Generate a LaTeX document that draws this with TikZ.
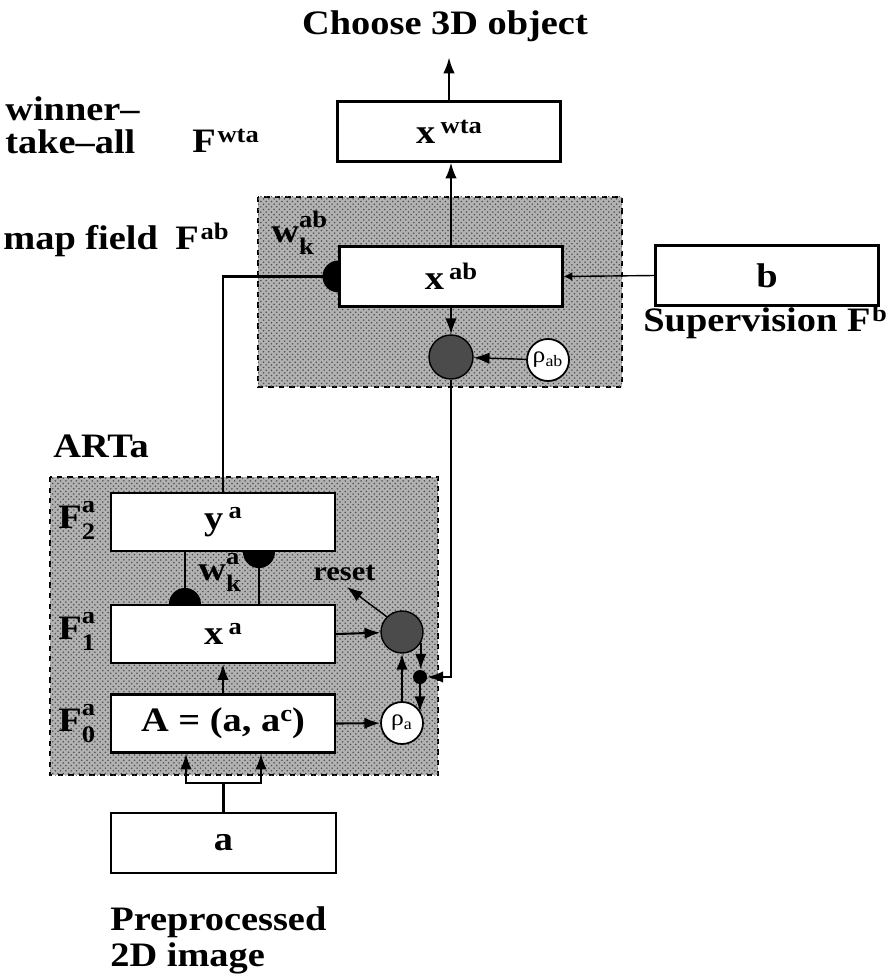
\documentclass[tikz,border=0pt]{standalone}
\usepackage{fontspec}
\setmainfont{Liberation Serif}[FakeStretch=1.12]
\usetikzlibrary{arrows.meta, positioning, calc, patterns}
\usepackage{xcolor}
\definecolor{cField}{RGB}{178, 178, 178}
\definecolor{cDots}{RGB}{80, 80, 80}
\definecolor{cNode}{RGB}{75, 75, 75}

\pgfdeclarelayer{field}
\pgfdeclarelayer{links}
\pgfsetlayers{field,links,main}

\newcommand{\sups}[1]{\raisebox{0.3em}{\fontsize{13.5}{13.5}\selectfont #1}}
\newcommand{\supsub}[2]{\rlap{\raisebox{0.45em}{\fontsize{13.5}{13.5}\selectfont #1}}%
    \raisebox{-0.34em}{\fontsize{13.5}{13.5}\selectfont #2}}

\begin{document}
\begin{tikzpicture}[
    x=0.02cm, y=0.02cm,
    font=\fontsize{19.5}{23}\selectfont\bfseries,
    >={Latex[length=9pt,width=6.5pt]},
    layerbox/.style={
        draw,
        line width=1.2pt,
        fill=white,
        minimum width=4.46cm,
        minimum height=1.2cm,
        inner sep=0pt
    },
    artbox/.style={layerbox, minimum width=4.48cm, minimum height=1.16cm},
    fieldbox/.style={draw, dashed, line width=0.9pt, fill=cField,
        postaction={pattern=crosshatch dots, pattern color=cDots}},
    match/.style={circle, draw, line width=0.8pt, fill=cNode, minimum size=0.88cm, inner sep=0pt},
    vigil/.style={circle, draw, line width=1pt, fill=white, minimum size=0.84cm, inner sep=0pt,
        font=\fontsize{13}{13}\selectfont\mdseries},
    tagtext/.style={anchor=base west, inner sep=0pt},
    link/.style={line width=1.2pt},
    thinlink/.style={line width=0.8pt},
    arrow/.style={->, line width=1.2pt}
]
\useasboundingbox (0,0) rectangle (895,-979);

% gray fields
\begin{pgfonlayer}{field}
    \draw[fieldbox] (258,-197) rectangle (622,-387);
    \draw[fieldbox] (50,-477) rectangle (438,-775);
\end{pgfonlayer}

% map field and winner-take-all
\node[layerbox] (wta) at (449,-131.5) {x\kern3pt\sups{wta}};
\node[layerbox] (xab) at (451,-276.5) {x\kern3pt\sups{ab}};
\node[layerbox] (b) at (767,-275.5) {b};
\node[match] (darkab) at (451,-357) {};
\node[vigil] (rhoab) at (548,-360) {ρ\textsubscript{ab}};

% ARTa
\node[artbox] (ya) at (223,-522) {y\kern3pt\sups{a}};
\node[artbox] (xa) at (223,-634) {x\kern3pt\sups{a}};
\node[artbox] (A) at (223,-723.5) {A = (a, a\sups{c})};
\node[match, minimum size=0.84cm] (darka) at (402,-632) {};
\node[circle, fill, minimum size=0.28cm, inner sep=0pt] (junc) at (420,-677) {};
\node[vigil] (rhoa) at (402,-723) {ρ\textsubscript{a}};
\node[layerbox, minimum width=4.5cm] (a) at (223.5,-843) {a};

% texts
\node[anchor=base, inner sep=0pt] (choose) at (445,-35) {Choose 3D object};
\node[tagtext] (winner) at (5,-121) {winner--};
\node[tagtext] (take) at (5,-154) {take--all};
\node[tagtext] (fwta) at (192,-153) {F\kern1pt\sups{wta}};
\node[tagtext] (mapf) at (3,-250) {map field};
\node[tagtext] (fab) at (175,-250) {F\kern1pt\sups{ab}};
\node[tagtext] (wab) at (271,-243) {w\supsub{ab}{k}};
\node[tagtext] (superv) at (643,-332) {Supervision F\kern1pt\sups{b}};
\node[tagtext] (arta) at (53,-457) {ARTa};
\node[tagtext] (f2) at (58,-528) {F\supsub{a}{2}};
\node[tagtext] (f1) at (58,-639) {F\supsub{a}{1}};
\node[tagtext] (f0) at (58,-731) {F\supsub{a}{0}};
\node[tagtext] (wa) at (198,-580) {w\supsub{a}{k}};
\node[tagtext, font=\fontsize{15.5}{15.5}\selectfont\bfseries] (reset) at (313,-580) {reset};
\node[tagtext] (prep) at (110,-930) {Preprocessed};
\node[tagtext] (img) at (110,-966) {2D image};
\coordinate (resetpt) at (347,-587);

\begin{pgfonlayer}{links}
    % adaptive weights
    \draw[link] (ya.north) |- (xab.west);
    \fill (xab.west) circle (16);
    \draw[link] ($(ya.south west)+(75,0)$) coordinate (bu) -- (bu |- xa.north);
    \fill (bu |- xa.north) circle (16);
    \draw[link] ($(xa.north west)+(149,0)$) coordinate (td) -- (td |- ya.south);
    \fill (td |- ya.south) circle (16);

    % map field
    \draw[arrow] (wta.north) -- ++(0,43);
    \draw[arrow] (xab.north) -- (xab.north |- wta.south);
    \draw[thinlink, -{Latex[length=5pt,width=5pt]}] (b.west) -- (xab.east);
    \draw[arrow] (xab.south) -- (darkab);
    \draw[thinlink, ->] (rhoab) -- (darkab);
    \draw[thinlink, ->] (darkab.south) |- (junc.east);

    % ARTa
    \draw[link] (a.north) -- ++(0,29) coordinate (split);
    \draw[arrow] (split) -| ($(A.south west)+(76,0)$);
    \draw[arrow] (split) -| ($(A.south west)+(151,0)$);
    \draw[arrow] (A.north) -- (xa.south);
    \draw[arrow] (xa.east) -- (darka);
    \draw[arrow] (A.east) -- (rhoa);
    \draw[arrow] (rhoa) -- (darka);
    \draw[arrow] (darka.-30) -- (darka.-30 |- junc.north);
    \draw[arrow] (junc.south) -- (junc.south |- rhoa.30);
    \draw[thinlink, ->] (darka.135) -- (resetpt);
\end{pgfonlayer}

\end{tikzpicture}
\end{document}
